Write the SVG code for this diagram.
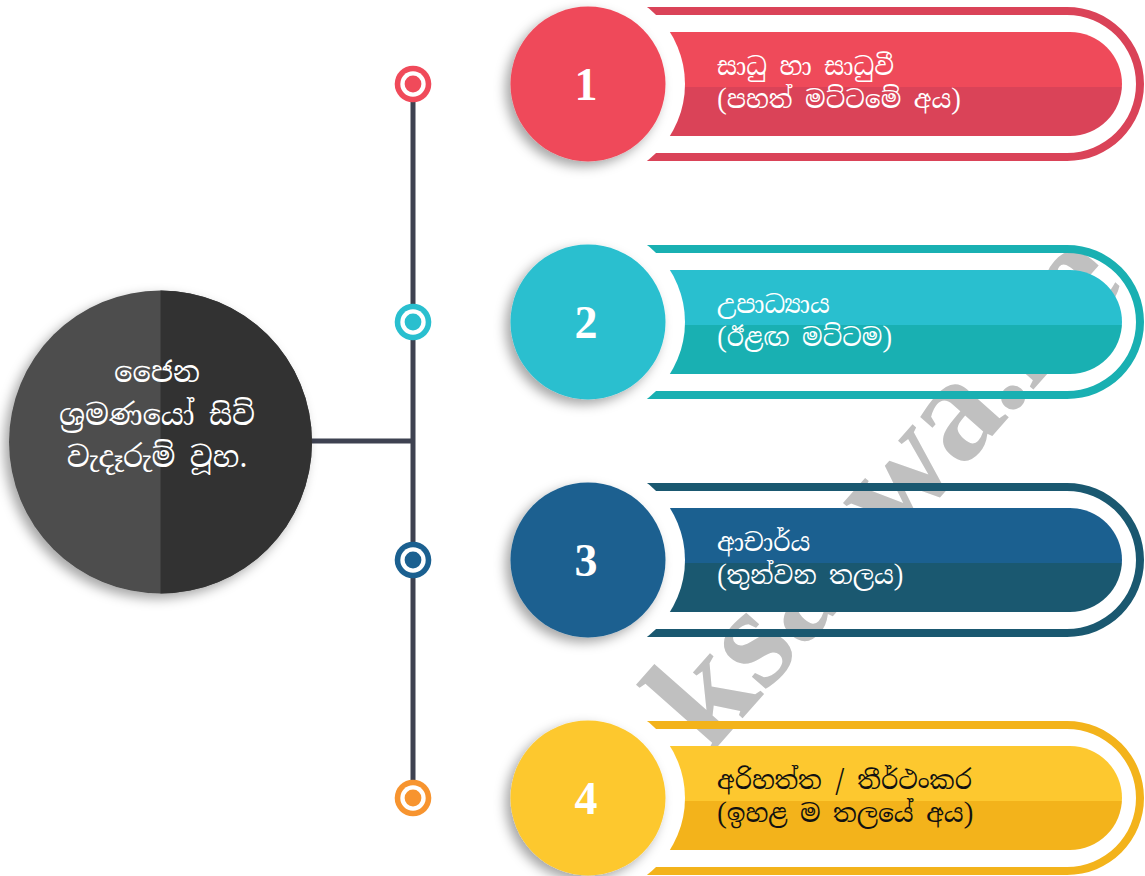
<svg xmlns="http://www.w3.org/2000/svg" width="1145" height="876" viewBox="0 0 1145 876">
<defs>
<style>
.si{font-family:"Noto Serif Sinhala","Noto Sans Sinhala","Iskoola Pota","Noto Sans",sans-serif;font-size:25px;}
.ctr{font-family:"Noto Serif Sinhala","Noto Sans Sinhala","Iskoola Pota","Noto Sans",sans-serif;font-size:29px;fill:#fff;text-anchor:middle;}
.num{font-family:"Liberation Serif","Times New Roman",serif;font-weight:bold;font-size:46px;fill:#fff;text-anchor:middle;}
.wm{font-family:"Liberation Serif","Times New Roman",serif;font-weight:bold;font-size:147px;fill:#c0c0c0;}
.line{stroke:#3e4251;stroke-width:5;fill:none;}
</style>
<filter id="sh" x="-30%" y="-30%" width="160%" height="160%">
<feDropShadow dx="-5" dy="5" stdDeviation="6" flood-color="#000" flood-opacity="0.35"/>
</filter>
<mask id="cut" maskUnits="userSpaceOnUse" x="0" y="-100" width="1145" height="200">
<rect x="0" y="-100" width="1145" height="200" fill="#fff"/>
<circle cx="588" cy="0" r="97" fill="#000"/>
</mask>
<linearGradient id="g1" x1="0" y1="0" x2="0" y2="1"><stop offset="0.53" stop-color="#ef4a5a"/><stop offset="0.53" stop-color="#da4358"/></linearGradient>
<linearGradient id="g2" x1="0" y1="0" x2="0" y2="1"><stop offset="0.53" stop-color="#29bfcf"/><stop offset="0.53" stop-color="#19b0b2"/></linearGradient>
<linearGradient id="g3" x1="0" y1="0" x2="0" y2="1"><stop offset="0.53" stop-color="#1b6090"/><stop offset="0.53" stop-color="#1a5870"/></linearGradient>
<linearGradient id="g4" x1="0" y1="0" x2="0" y2="1"><stop offset="0.53" stop-color="#fdc82f"/><stop offset="0.53" stop-color="#f3b31b"/></linearGradient>
<path id="band" fill-rule="evenodd" d="M560,-77 H1067 A77,77 0 0 1 1067,77 H560 Z M560,-69 H1067 A69,69 0 0 1 1067,69 H560 Z"/>
<path id="pill" d="M560,-52 H1070 A52,52 0 0 1 1070,52 H560 Z"/>
</defs>

<text class="wm" transform="translate(710,755) rotate(-48.5)">ksa<tspan dx="64" letter-spacing="-3">wa.ne</tspan></text>

<g id="connectors">
<line class="line" x1="413" y1="84" x2="413" y2="798"/>
<line class="line" x1="310" y1="441" x2="413" y2="441"/>
</g>

<g id="dots">
<g id="dot1"><circle cx="413" cy="84" r="18.3" fill="#f04a5a"/><circle cx="413" cy="84" r="12.7" fill="#fff"/><circle cx="413" cy="84" r="8.4" fill="#f04a5a"/></g>
<g id="dot2"><circle cx="413" cy="322" r="18.3" fill="#29bfcf"/><circle cx="413" cy="322" r="12.7" fill="#fff"/><circle cx="413" cy="322" r="8.4" fill="#29bfcf"/></g>
<g id="dot3"><circle cx="413" cy="560" r="18.3" fill="#1b6090"/><circle cx="413" cy="560" r="12.7" fill="#fff"/><circle cx="413" cy="560" r="8.4" fill="#1b6090"/></g>
<g id="dot4"><circle cx="413" cy="798" r="18.3" fill="#f7942f"/><circle cx="413" cy="798" r="12.7" fill="#fff"/><circle cx="413" cy="798" r="8.4" fill="#f7942f"/></g>
</g>

<g id="center">
<g filter="url(#sh)">
<circle cx="160.5" cy="442" r="151.5" fill="#4d4d4d"/>
<path d="M160.5,290.5 A151.5,151.5 0 0 1 160.5,593.5 Z" fill="#333"/>
</g>
<text class="ctr" x="157" y="382">ජෛන</text>
<text class="ctr" x="157" y="425">ශ්‍රමණයෝ සිව්</text>
<text class="ctr" x="157" y="467">වැදෑරුම් වූහ.</text>
</g>

<g id="box1" transform="translate(0,84)">
<g mask="url(#cut)">
<use href="#band" fill="#da4358"/>
<use href="#pill" fill="url(#g1)"/>
</g>
<circle cx="588" cy="0" r="77.5" fill="#ef4a5a" filter="url(#sh)"/>
<text class="num" x="586" y="16">1</text>
<text class="si" x="717" y="-9" fill="#fff">සාධු හා සාධුවී</text>
<text class="si" x="717" y="24" fill="#fff">(පහත් මට්ටමේ අය)</text>
</g>

<g id="box2" transform="translate(0,322)">
<g mask="url(#cut)">
<use href="#band" fill="#19b0b2"/>
<use href="#pill" fill="url(#g2)"/>
</g>
<circle cx="588" cy="0" r="77.5" fill="#29bfcf" filter="url(#sh)"/>
<text class="num" x="586" y="16">2</text>
<text class="si" x="717" y="-9" fill="#fff">උපාධ්‍යාය</text>
<text class="si" x="717" y="24" fill="#fff">(ඊළඟ මට්ටම)</text>
</g>

<g id="box3" transform="translate(0,560)">
<g mask="url(#cut)">
<use href="#band" fill="#1a5870"/>
<use href="#pill" fill="url(#g3)"/>
</g>
<circle cx="588" cy="0" r="77.5" fill="#1b6090" filter="url(#sh)"/>
<text class="num" x="586" y="16">3</text>
<text class="si" x="717" y="-9" fill="#fff">ආචාර්ය</text>
<text class="si" x="717" y="24" fill="#fff">(තුන්වන තලය)</text>
</g>

<g id="box4" transform="translate(0,798)">
<g mask="url(#cut)">
<use href="#band" fill="#f3b31b"/>
<use href="#pill" fill="url(#g4)"/>
</g>
<circle cx="588" cy="0" r="77.5" fill="#fdc82f" filter="url(#sh)"/>
<text class="num" x="586" y="16">4</text>
<text class="si" x="717" y="-9" fill="#111">අරිහත්ත / තීර්ථංකර</text>
<text class="si" x="717" y="24" fill="#111">(ඉහළ ම තලයේ අය)</text>
</g>
</svg>
